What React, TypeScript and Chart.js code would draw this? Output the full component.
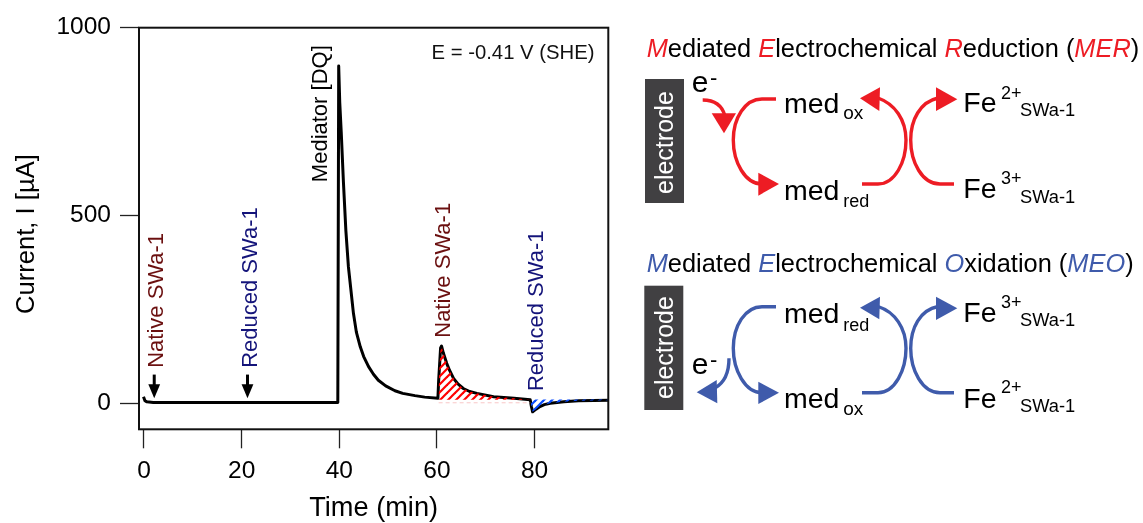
import React, { useEffect, useRef } from "react";
import { Chart, registerables } from "chart.js";

Chart.register(...registerables);

const FONT = '"Liberation Sans", Arial, sans-serif';

const timeMin = [-0.1, 0.2, 0.6, 1.9, 10, 21, 30, 39.7, 39.88, 40.1, 40.4, 40.85, 41.35, 41.87, 42.9, 43.5, 44.3, 45, 46, 47, 48, 49.5, 51.4, 53, 55.5, 57.5, 60.2, 60.35, 60.75, 60.95, 61.3, 62, 62.6, 63.4, 64.3, 65.4, 66.7, 68.2, 71.6, 75.8, 79.1, 79.35, 79.6, 80.3, 81.1, 82, 83.2, 86, 89, 95.2];
const currentUA = [18, 7.5, 4.5, 3, 2.5, 2.5, 2.5, 2.5, 898, 800, 722, 589, 460, 364, 240, 190, 151, 125, 98, 78, 62, 47, 34, 27, 21, 17, 14, 60, 148, 153, 135, 107, 88, 67, 52, 40, 32, 27, 18, 14, 10, -8, -22, -15, -8, -3, 0.5, 5, 7.5, 8.5];

const merStart = 60.35;
const merEnd = 79.1;
const merFillLevel = 10;
const merBaseTimes = [60.35, 79.1];
const merBaseCurrents = [2, 2];
const meoStart = 79.1;
const meoFillLevel = 11;

const xTickValues = [0, 20, 40, 60, 80];
const yTickValues = [0, 500, 1000];

const noteTexts = ["Native SWa-1", "Reduced SWa-1", "Mediator [DQ]", "Native SWa-1", "Reduced SWa-1"];
const noteTimes = [3.9, 23.2, 37.45, 62.7, 81.8];
const noteCurrents = [95, 95, 589, 175, 33];
const noteColors = ["#6b1010", "#14147a", "#000000", "#6b1010", "#14147a"];

const arrowTimes = [2.1, 21.2];
const arrowTopCurrents = [77, 77];
const arrowTipCurrents = [14, 14];

const RED = "#ed1c24";
const BLUE = "#3f5bab";

function hatch(color: string, stripe: number) {
  const size = 8;
  const c = document.createElement("canvas");
  c.width = size;
  c.height = size;
  const g = c.getContext("2d")!;
  g.strokeStyle = color;
  g.lineWidth = stripe;
  g.lineCap = "square";
  for (const o of [-size, 0, size]) {
    g.beginPath();
    g.moveTo(o, size);
    g.lineTo(o + size, 0);
    g.stroke();
  }
  return g.createPattern(c, "repeat")!;
}

const overlay = {
  id: "overlay",
  afterDatasetsDraw(chart: any) {
    const { ctx, chartArea: a, scales } = chart;
    const x = scales.x;
    const y = scales.y;
    ctx.save();
    ctx.strokeStyle = "#111";
    ctx.lineWidth = 2;
    ctx.strokeRect(a.left, a.top, a.right - a.left, a.bottom - a.top);

    arrowTimes.forEach((t, i) => {
      const px = x.getPixelForValue(t);
      const top = y.getPixelForValue(arrowTopCurrents[i]);
      const tip = y.getPixelForValue(arrowTipCurrents[i]);
      ctx.fillStyle = "#000";
      ctx.strokeStyle = "#000";
      ctx.lineWidth = 3;
      ctx.beginPath();
      ctx.moveTo(px, top);
      ctx.lineTo(px, tip - 10);
      ctx.stroke();
      ctx.beginPath();
      ctx.moveTo(px - 5.9, tip - 14);
      ctx.lineTo(px + 5.9, tip - 14);
      ctx.lineTo(px, tip);
      ctx.closePath();
      ctx.fill();
    });

    ctx.font = `22px ${FONT}`;
    ctx.textAlign = "left";
    ctx.textBaseline = "alphabetic";
    noteTexts.forEach((s, i) => {
      ctx.save();
      ctx.translate(x.getPixelForValue(noteTimes[i]), y.getPixelForValue(noteCurrents[i]));
      ctx.rotate(-Math.PI / 2);
      ctx.fillStyle = noteColors[i];
      ctx.fillText(s, 0, 0);
      ctx.restore();
    });

    ctx.font = `20.3px ${FONT}`;
    ctx.fillStyle = "#111";
    ctx.fillText("E = -0.41 V (SHE)", x.getPixelForValue(58.9), y.getPixelForValue(918));

    ctx.save();
    ctx.translate(34, 314);
    ctx.rotate(-Math.PI / 2);
    ctx.font = `25.6px ${FONT}`;
    ctx.fillStyle = "#000";
    ctx.fillText("Current, I [µA]", 0, 0);
    ctx.restore();
    ctx.restore();
  },
};

function Txt(p: { x: number; y: number; size: number; fill?: string; style?: string; children: any; rotate?: boolean }) {
  return (
    <text
      x={p.x}
      y={p.y}
      fontSize={p.size}
      fontFamily={FONT}
      fill={p.fill ?? "#000"}
      fontStyle={p.style}
      transform={p.rotate ? `rotate(-90 ${p.x} ${p.y})` : undefined}
    >
      {p.children}
    </text>
  );
}

function Title(p: { y: number; color: string; third: string; thirdRest: string; abbr: string }) {
  return (
    <text x={646.7} y={p.y} fontSize={25.4} fontFamily={FONT} fill="#000">
      <tspan fill={p.color} fontStyle="italic">M</tspan>ediated{" "}
      <tspan fill={p.color} fontStyle="italic">E</tspan>lectrochemical{" "}
      <tspan fill={p.color} fontStyle="italic">{p.third}</tspan>{p.thirdRest} (
      <tspan fill={p.color} fontStyle="italic">{p.abbr}</tspan>)
    </text>
  );
}

function Species(p: { x: number; y: number; main: string; sub: string; subX: number; subY: number; subSize: number; sup?: string; supX?: number; supY?: number }) {
  return (
    <g>
      <Txt x={p.x} y={p.y} size={28.5}>{p.main}</Txt>
      {p.sup ? <Txt x={p.supX!} y={p.supY!} size={18}>{p.sup}</Txt> : null}
      <Txt x={p.subX} y={p.subY} size={p.subSize}>{p.sub}</Txt>
    </g>
  );
}

function Schematic() {
  const stroke = { fill: "none", strokeWidth: 3.4 };
  return (
    <svg width={1143} height={523} style={{ position: "absolute", left: 0, top: 0, pointerEvents: "none" }}>
      <Title y={57.3} color={RED} third="R" thirdRest="eduction" abbr="MER" />
      <rect x={645} y={79} width={39} height={124} fill="#414042" />
      <Txt x={673} y={194} size={25} fill="#fff" rotate>electrode</Txt>
      <Txt x={691.7} y={92.3} size={30}>e</Txt>
      <Txt x={710} y={85} size={22}>-</Txt>
      <Species x={784} y={113.3} main="med" sub="ox" subX={843.3} subY={119.3} subSize={19} />
      <Species x={784} y={200} main="med" sub="red" subX={843.3} subY={206.7} subSize={18} />
      <Species x={963.3} y={111.7} main="Fe" sup="2+" supX={1001} supY={99.3} sub="SWa-1" subX={1020} subY={116} subSize={18.3} />
      <Species x={963.3} y={198.3} main="Fe" sup="3+" supX={1001} supY={184} sub="SWa-1" subX={1020} subY={202.7} subSize={18.3} />
      <g stroke={RED} {...stroke}>
        <path d="M776 99 L762 99 C745 99 733.3 118 733.3 140 C733.3 162 745 184 762 184" />
        <path d="M862 184 L878 184 C895 184 906 162 906 140 C906 120 895 104 878 98" />
        <path d="M954 184 L940 184 C922 184 910.7 162 910.7 140 C910.7 120 920 102 938 98" />
        <path d="M702.7 100 C714 100 722 105 725 116" />
      </g>
      <g fill={RED}>
        <polygon points="758.3,172.7 758.3,195.7 779,184" />
        <polygon points="880,87.3 879.3,111 860,98.3" />
        <polygon points="936,87.3 936,111 957.3,99.3" />
        <polygon points="711.7,113.3 736,113.3 724,133.3" />
      </g>

      <Title y={271.7} color={BLUE} third="O" thirdRest="xidation" abbr="MEO" />
      <rect x={644.3} y={285.7} width={39} height={124.3} fill="#414042" />
      <Txt x={673} y={399} size={25} fill="#fff" rotate>electrode</Txt>
      <Txt x={691.7} y={374.3} size={30}>e</Txt>
      <Txt x={710} y={367} size={22}>-</Txt>
      <Species x={784} y={322.7} main="med" sub="red" subX={843.3} subY={330.7} subSize={18} />
      <Species x={784} y={408.3} main="med" sub="ox" subX={843.3} subY={415} subSize={19} />
      <Species x={963.3} y={321.7} main="Fe" sup="3+" supX={1001} supY={308.3} sub="SWa-1" subX={1020} subY={325.7} subSize={18.3} />
      <Species x={963.3} y={408.3} main="Fe" sup="2+" supX={1001} supY={393.3} sub="SWa-1" subX={1020} subY={411.7} subSize={18.3} />
      <g stroke={BLUE} {...stroke}>
        <path d="M776 306.7 L762 306.7 C745 306.7 733.3 326 733.3 348.3 C733.3 370 745 392.7 762 392.7" />
        <path d="M862 392.7 L878 392.7 C895 392.7 906 370 906 348.3 C906 328 895 312 878 306.5" />
        <path d="M954 392.7 L940 392.7 C922 392.7 910.7 370 910.7 348.3 C910.7 328 920 310 938 306.5" />
        <path d="M729 358.3 C729 372 724 383 715 388" />
      </g>
      <g fill={BLUE}>
        <polygon points="758.3,381.7 758.3,404 779,392.7" />
        <polygon points="880,296.7 879.3,319.3 860,307.7" />
        <polygon points="936,296.7 936,320 957.3,308.3" />
        <polygon points="716.7,380 717.3,403.3 696.7,392.3" />
      </g>
    </svg>
  );
}

export default function App() {
  const ref = useRef<HTMLCanvasElement>(null);
  useEffect(() => {
    const points = timeMin.map((t, i) => ({ x: t, y: currentUA[i] }));
    const chart = new Chart(ref.current!, {
      type: "scatter",
      data: {
        datasets: [
          {
            data: merBaseTimes.map((t, i) => ({ x: t, y: merBaseCurrents[i] })),
            showLine: true,
            borderColor: "#f8c8c8",
            borderWidth: 1,
            borderDash: [4, 3],
            pointRadius: 0,
          },
          {
            data: points.filter((p) => p.x >= merStart && p.x <= merEnd),
            showLine: true,
            borderWidth: 0,
            borderColor: "transparent",
            backgroundColor: hatch("#ff0000", 2.2) as any,
            fill: { value: merFillLevel },
            pointRadius: 0,
          },
          {
            data: points.filter((p) => p.x >= meoStart),
            showLine: true,
            borderWidth: 0,
            borderColor: "transparent",
            backgroundColor: hatch("#0a4dff", 2.2) as any,
            fill: { value: meoFillLevel },
            pointRadius: 0,
          },
          {
            data: points,
            showLine: true,
            borderColor: "#000",
            borderWidth: 3,
            borderJoinStyle: "round",
            pointRadius: 0,
            fill: false,
          },
        ],
      },
      options: {
        animation: false,
        responsive: false,
        layout: { padding: { left: 0, top: 27.7, right: 534.7, bottom: 0 } },
        plugins: { legend: { display: false }, tooltip: { enabled: false } },
        scales: {
          x: {
            type: "linear",
            min: -1.02,
            max: 95.1,
            afterBuildTicks: (s: any) => {
              s.ticks = xTickValues.map((value) => ({ value }));
            },
            afterFit: (s: any) => {
              s.height = 93.7;
            },
            grid: { drawOnChartArea: false, drawTicks: true, tickLength: 19, tickColor: "#222", tickWidth: 1.3 },
            border: { display: false },
            ticks: { color: "#000", font: { family: FONT, size: 24.5 }, padding: 8, maxRotation: 0, autoSkip: false, callback: (v: any) => String(v) },
            title: { display: true, text: "Time (min)", color: "#000", font: { family: FONT, size: 27.2, lineHeight: 1 }, padding: { top: 0, bottom: 1 } },
          },
          y: {
            type: "linear",
            min: -68.6,
            max: 1000,
            afterBuildTicks: (s: any) => {
              s.ticks = yTickValues.map((value) => ({ value }));
            },
            afterFit: (s: any) => {
              s.width = 139;
            },
            grid: { drawOnChartArea: false, drawTicks: true, tickLength: 19, tickColor: "#222", tickWidth: 1.3 },
            border: { display: false },
            ticks: { color: "#000", font: { family: FONT, size: 24.5 }, padding: 9, autoSkip: false, callback: (v: any) => String(v) },
          },
        },
      },
      plugins: [overlay],
    } as any);
    return () => chart.destroy();
  }, []);
  return (
    <div style={{ position: "absolute", left: 0, top: 0, width: 1143, height: 523, background: "#fff" }}>
      <canvas ref={ref} width={1143} height={523} />
      <Schematic />
    </div>
  );
}
